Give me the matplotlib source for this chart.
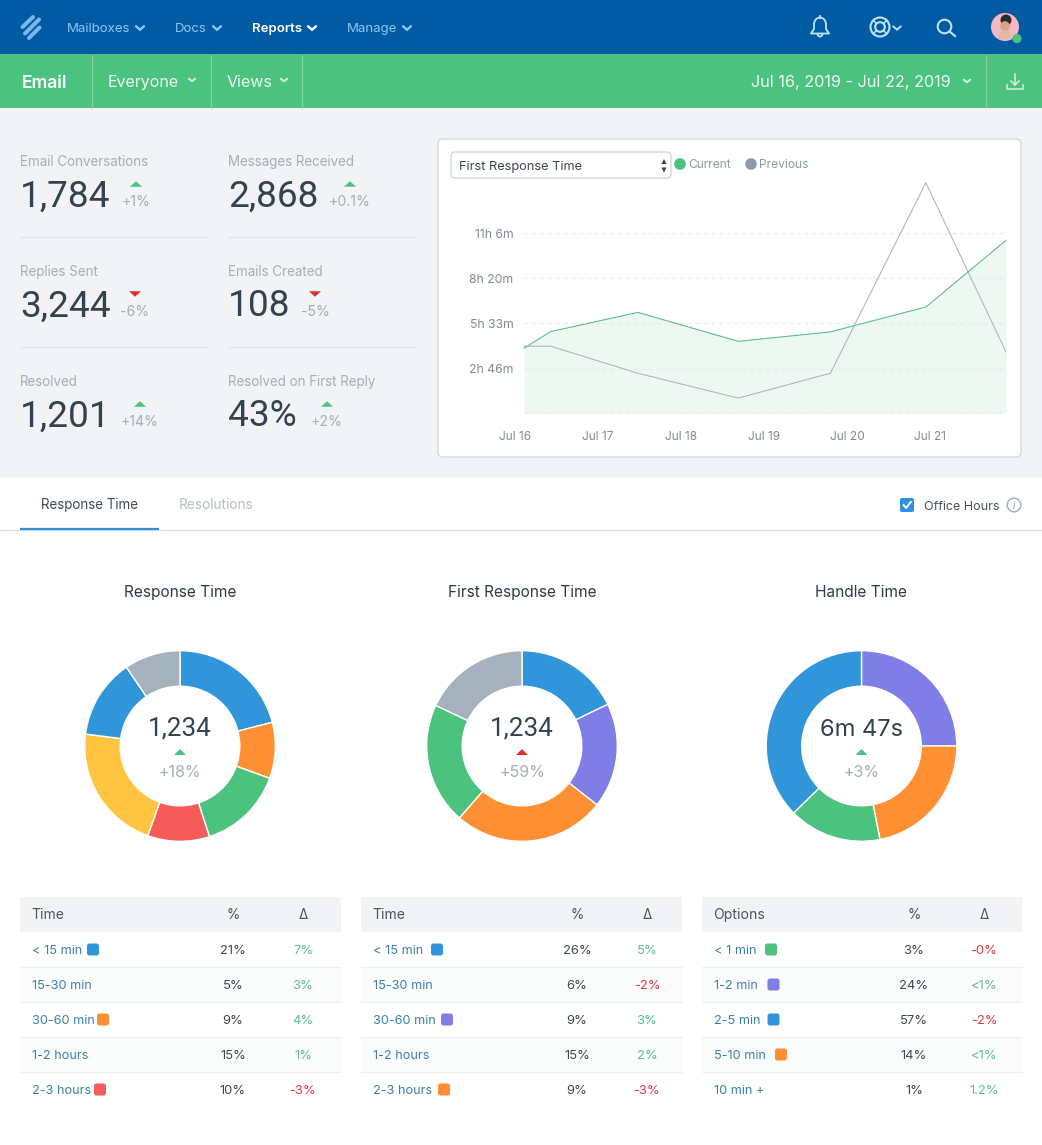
import matplotlib
matplotlib.use("Agg")
import matplotlib.pyplot as plt
from matplotlib.patches import Rectangle, FancyBboxPatch, Circle, Polygon, Arc

plt.rcParams['font.family'] = ['Inter', 'DejaVu Sans']

W, H = 1042, 1145

# ---------- data ----------
line_days_current = [16.11, 16.43, 17.48, 18.69, 19.80, 20.95, 21.92]
line_current = [242, 303, 374, 267, 302, 394, 642]
line_days_previous = [16.11, 16.43, 17.48, 18.69, 19.80, 20.95, 21.92]
line_previous = [249, 249, 149, 57, 149, 854, 225]
y_ticks = [166.5, 333, 499.5, 666]
y_labels = ['2h 46m', '5h 33m', '8h 20m', '11h 6m']
x_ticks = [16, 17, 18, 19, 20, 21]
x_labels = ['Jul 16', 'Jul 17', 'Jul 18', 'Jul 19', 'Jul 20', 'Jul 21']

donut_titles = ['Response Time', 'First Response Time', 'Handle Time']
donut_centers = ['1,234', '1,234', '6m 47s']
donut_deltas = ['+18%', '+59%', '+3%']
donut_up_good = [True, False, True]
donut1_values = [21, 9.5, 14.5, 10.5, 21.5, 13.5, 9.5]
donut2_values = [17.8, 17.8, 25.8, 20.6, 18]
donut3_values = [25, 21.9, 15.7, 37.4]

BLUE, ORANGE, GREEN, RED = '#3196D9', '#FF8F33', '#4CC27F', '#F55B58'
YELLOW, GRAY, PURPLE = '#FFC540', '#A5B1BD', '#7F7DE6'
donut1_colors = [BLUE, ORANGE, GREEN, RED, YELLOW, BLUE, GRAY]
donut2_colors = [BLUE, PURPLE, ORANGE, GREEN, GRAY]
donut3_colors = [PURPLE, ORANGE, GREEN, BLUE]

stat_labels = ['Email Conversations', 'Messages Received', 'Replies Sent',
               'Emails Created', 'Resolved', 'Resolved on First Reply']
stat_values = ['1,784', '2,868', '3,244', '108', '1,201', '43%']
stat_deltas = ['+1%', '+0.1%', '-6%', '-5%', '+14%', '+2%']
stat_good = [True, True, False, False, True, True]

table1_head = ['Time', '%', 'Δ']
table1_labels = ['< 15 min', '15-30 min', '30-60 min', '1-2 hours', '2-3 hours']
table1_pct = ['21%', '5%', '9%', '15%', '10%']
table1_delta = ['7%', '3%', '4%', '1%', '-3%']
table1_swatch = [BLUE, None, ORANGE, None, RED]

table2_head = ['Time', '%', 'Δ']
table2_labels = ['< 15 min', '15-30 min', '30-60 min', '1-2 hours', '2-3 hours']
table2_pct = ['26%', '6%', '9%', '15%', '9%']
table2_delta = ['5%', '-2%', '3%', '2%', '-3%']
table2_swatch = [BLUE, None, PURPLE, None, ORANGE]

table3_head = ['Options', '%', 'Δ']
table3_labels = ['< 1 min', '1-2 min', '2-5 min', '5-10 min', '10 min +']
table3_pct = ['3%', '24%', '57%', '14%', '1%']
table3_delta = ['-0%', '<1%', '-2%', '<1%', '1.2%']
table3_swatch = [GREEN, PURPLE, BLUE, ORANGE, None]

# ---------- canvas ----------
fig = plt.figure(figsize=(W / 100, H / 100), dpi=100, facecolor='white')
ui = fig.add_axes([0, 0, 1, 1], zorder=0)
ui.set_xlim(0, W)
ui.set_ylim(H, 0)
ui.axis('off')

NUMFONT = ['Roboto', 'DejaVu Sans']


def px(size):
    return size * 0.72


def rect(x0, y0, x1, y1, color, z=1):
    ui.add_patch(Rectangle((x0, y0), x1 - x0, y1 - y0, fc=color, ec='none', zorder=z))


def hline(x0, x1, y, color, lw=1.0, z=2):
    ui.plot([x0, x1], [y, y], color=color, lw=lw, zorder=z, solid_capstyle='butt')


def vline(x, y0, y1, color, lw=1.0, z=2):
    ui.plot([x, x], [y0, y1], color=color, lw=lw, zorder=z, solid_capstyle='butt')


def text(x, y, s, size, color, ha='left', weight='normal', **kw):
    ui.text(x, y + 0.36 * size, s, fontsize=px(size), color=color, ha=ha, va='baseline',
            fontweight=weight, zorder=5, **kw)


def chevron(x, y, color, w=4, h=3.5, lw=1.7):
    ui.plot([x - w, x, x + w], [y - h / 2, y + h / 2, y - h / 2], color=color, lw=lw,
            solid_capstyle='round', solid_joinstyle='miter', zorder=5)


def tri(x, y, color, w=12, h=5.5):
    ui.add_patch(Polygon([(x - w / 2, y + h / 2), (x + w / 2, y + h / 2), (x, y - h / 2)],
                         closed=True, fc=color, ec='none', zorder=5))


def tri_down(x, y, color, w=12, h=5.5):
    ui.add_patch(Polygon([(x - w / 2, y - h / 2), (x + w / 2, y - h / 2), (x, y + h / 2)],
                         closed=True, fc=color, ec='none', zorder=5))


def rounded(x0, y0, x1, y1, r, fc, ec='none', lw=1.0, z=2):
    ui.add_patch(FancyBboxPatch((x0 + r, y0 + r), x1 - x0 - 2 * r, y1 - y0 - 2 * r,
                                boxstyle=f'round,pad={r},rounding_size={r}',
                                fc=fc, ec=ec, lw=lw, zorder=z))


NAV, BAR, PAGE = '#005BA3', '#4CC27F', '#F1F3F5'
NAVTXT = '#8CC6F7'
INK, MUTED = '#2C3A48', '#A3AFBA'
rect(0, 0, W, 54, NAV)
rect(0, 54, W, 108, BAR)
rect(0, 108, W, 478, PAGE)

# ---------- top nav ----------
for (xa, ya, xb, yb) in ((22.5, 27, 33, 17), (25, 33.5, 39, 19.5), (29, 38, 39.5, 27.5)):
    ui.plot([xa, xb], [ya, yb], color='#78B8F0', lw=2.9, solid_capstyle='round', zorder=5)
nav_items = [('Mailboxes', 67, 140), ('Docs', 175, 217), ('Reports', 252, 312), ('Manage', 347, 407)]
for name, x, cx in nav_items:
    active = name == 'Reports'
    c = 'white' if active else NAVTXT
    text(x, 27, name, 13.2, c, weight='semibold' if active else 'normal')
    chevron(cx, 28, c)

ICON = '#BFE1FC'
# bell
ui.add_patch(Arc((820, 24.5), 12, 14, theta1=180, theta2=360, ec=ICON, lw=1.3, zorder=5))
ui.plot([814, 814, 811, 829, 826, 826], [24.5, 29, 33.5, 33.5, 29, 24.5], color=ICON, lw=1.3, zorder=5)
ui.plot([820, 820], [15.5, 17.5], color=ICON, lw=1.3, zorder=5)
ui.add_patch(Arc((820, 34), 5, 5, theta1=0, theta2=180, ec=ICON, lw=1.3, zorder=5))
# life ring
ui.add_patch(Circle((880, 27), 9.5, fc='none', ec=ICON, lw=1.5, zorder=5))
ui.add_patch(Circle((880, 27), 4.8, fc='none', ec=ICON, lw=1.5, zorder=5))
for a, b in ((1, 1), (1, -1), (-1, 1), (-1, -1)):
    ui.plot([880 + a * 3.4, 880 + a * 6.8], [27 + b * 3.4, 27 + b * 6.8], color=ICON, lw=1.2, zorder=5)
chevron(897, 28, ICON, w=3.8, h=3.2, lw=1.4)
# search
ui.add_patch(Circle((944.5, 26.5), 6.8, fc='none', ec=ICON, lw=1.5, zorder=5))
ui.plot([949.5, 955], [31.5, 36], color=ICON, lw=1.5, zorder=5)
# avatar
ui.add_patch(Circle((1005, 27), 14, fc='#F4B8C4', ec='none', zorder=5))
ui.add_patch(Circle((1006, 20), 5.5, fc='#2B2A2E', ec='none', zorder=6))
ui.add_patch(Circle((1005, 26), 4.8, fc='#D9A283', ec='none', zorder=6))
ui.add_patch(Polygon([(998, 39), (1002, 30), (1008, 30), (1012, 38)], fc='#E0B89F', ec='none', zorder=6))
ui.add_patch(Circle((1017, 38.5), 4.6, fc=BAR, ec='none', zorder=7))

# ---------- green bar ----------
for x in (92, 211, 302, 986):
    vline(x, 55, 108, '#7BD3A1', lw=0.9)
text(22, 82, 'Email', 17.5, 'white', weight='semibold')
text(108, 81, 'Everyone', 16, '#EAF8F0')
chevron(192, 80, '#D5F1E1', w=3.2, h=2.6, lw=1.4)
text(227, 81, 'Views', 16, '#EAF8F0')
chevron(284, 80, '#D5F1E1', w=3.2, h=2.6, lw=1.4)
text(951, 81, 'Jul 16, 2019 - Jul 22, 2019', 16.25, '#EAF8F0', ha='right')
chevron(967, 81, '#D5F1E1', w=3.2, h=2.6, lw=1.4)
ui.plot([1015, 1015], [74, 85], color='#CDEEDB', lw=1.2, zorder=5)
ui.plot([1011, 1015, 1019], [81, 85, 81], color='#CDEEDB', lw=1.2, zorder=5)
ui.plot([1007, 1007, 1023, 1023], [85, 89, 89, 85], color='#CDEEDB', lw=1.2, zorder=5)

# ---------- stat blocks ----------
stat_x = [20, 228, 20, 228, 20, 228]
stat_y = [161, 161, 271, 271, 381, 381]
stat_tri_x = [136, 350, 135, 315, 140, 327]
for i, lab in enumerate(stat_labels):
    x, y = stat_x[i], stat_y[i]
    text(x, y, lab, 13.4, MUTED)
    text(x, y + 32, stat_values[i], 37, '#34424F', family=NUMFONT)
    if stat_good[i]:
        tri(stat_tri_x[i], y + 23, GREEN)
    else:
        tri_down(stat_tri_x[i], y + 23, '#DE2E2E')
    text(stat_tri_x[i], y + 40, stat_deltas[i], 14, MUTED, ha='center')
for y in (237, 347):
    hline(20, 208, y, '#E1E5E8')
    hline(228, 416, y, '#E1E5E8')

# ---------- line chart card ----------
rounded(438, 139, 1021, 457, 5, 'white', ec='#CFD5DA', lw=0.8)
rounded(451, 152, 671, 178, 4, 'white', ec='#C9CFD5', lw=0.8, z=3)
text(459, 165.5, 'First Response Time', 12.8, '#3A4652')
tri(664, 161.5, '#333D47', w=5, h=5)
tri_down(664, 170, '#333D47', w=5, h=5)
ui.add_patch(Circle((680, 164), 5.8, fc=GREEN, ec='none', zorder=5))
text(688, 164, 'Current', 12, '#8D99A4')
ui.add_patch(Circle((751, 164), 5.8, fc='#8E9AA8', ec='none', zorder=5))
text(759, 164, 'Previous', 12, '#8D99A4')

# axes: y=0 at 413.5 px, 45 px per 166.5 minutes; x: 83 px per day, Jul 16 at 515 px
ax_left, ax_right, ax_top, ax_bottom = 515, 1006, 173.5, 413.5
ax = fig.add_axes([ax_left / W, 1 - ax_bottom / H, (ax_right - ax_left) / W, (ax_bottom - ax_top) / H],
                  zorder=1)
ax.patch.set_alpha(0)
ax.set_xlim(16, 16 + (ax_right - ax_left) / 83)
ax.set_ylim(0, (ax_bottom - ax_top) * 3.7)
for s in ax.spines.values():
    s.set_visible(False)
ax.fill_between(line_days_current, line_current, 0, color='#EEF8F3', lw=0, zorder=1)
ax.hlines(y_ticks + [1], line_days_current[0], line_days_current[-1], colors='#E7EAED', lw=0.8,
          linestyles=(0, (4, 3)), zorder=2)
ax.plot(line_days_previous, line_previous, color='#B2B6B9', lw=0.8, zorder=3)
ax.plot(line_days_current, line_current, color='#5ABF88', lw=0.8, zorder=4)
ax.set_yticks(y_ticks)
ax.set_yticklabels(y_labels, fontsize=px(12.2), color='#7E8A96')
ax.set_xticks(x_ticks)
ax.set_xticklabels(x_labels, fontsize=px(11.8), color='#7E8A96')
ax.tick_params(axis='both', length=0)
ax.tick_params(axis='y', pad=1)
ax.tick_params(axis='x', pad=12.5)

# ---------- tabs ----------
text(89.5, 504, 'Response Time', 13.4, '#3F4B57', ha='center')
text(216.5, 504, 'Resolutions', 13.7, '#B5BEC6', ha='center')
hline(0, W, 530, '#DCE1E5')
hline(20, 159, 529, '#2F8FDA', lw=1.6, z=3)
rounded(900, 498, 914, 512, 2, '#2E8FE3', z=4)
ui.plot([903.5, 906, 910.8], [505, 508, 502], color='white', lw=1.4, zorder=5)
text(924, 505.5, 'Office Hours', 12.5, '#47535F')
ui.add_patch(Circle((1014, 505), 6.8, fc='none', ec='#A7B1BA', lw=1.1, zorder=5))
text(1014, 505, 'i', 10, '#8F9BA6', ha='center', style='italic')

# ---------- donuts ----------
donut_cx = [180, 522, 861.5]
donut_vals = [donut1_values, donut2_values, donut3_values]
donut_cols = [donut1_colors, donut2_colors, donut3_colors]
title_x = [180, 522, 861]
for i in range(3):
    cx, cy, r = donut_cx[i], 746, 95.3
    dax = fig.add_axes([(cx - r) / W, 1 - (cy + r) / H, 2 * r / W, 2 * r / H], zorder=1)
    dax.patch.set_alpha(0)
    dax.pie(donut_vals[i], colors=donut_cols[i], startangle=90, counterclock=False, radius=1,
            wedgeprops=dict(width=35.5 / 95.3, edgecolor='white', linewidth=1.0))
    dax.set_xlim(-1, 1)
    dax.set_ylim(-1, 1)
    text(title_x[i], 591, donut_titles[i], 15.45, '#2F3B47', ha='center')
    if donut_centers[i].startswith('1'):
        text(cx, 726, donut_centers[i], 26, '#34424F', ha='center', family=NUMFONT)
    else:
        text(cx, 727, donut_centers[i], 23.7, '#34424F', ha='center')
    tri(cx, 752, GREEN if donut_up_good[i] else '#DE2E2E', w=12, h=6)
    text(cx, 771, donut_deltas[i], 16, MUTED, ha='center')

# ---------- tables ----------
tables = [
    (20, 341, 213, 283, table1_head, table1_labels, table1_pct, table1_delta, table1_swatch,
     [93, None, 103, None, 100]),
    (361, 682, 216, 286, table2_head, table2_labels, table2_pct, table2_delta, table2_swatch,
     [437, None, 447, None, 444]),
    (702, 1022, 212, 282, table3_head, table3_labels, table3_pct, table3_delta, table3_swatch,
     [771, 773.5, 773.5, 781, None]),
]
LINK, DARK, GOODT, BADT = '#3C80A8', '#3E4954', '#5CC08A', '#DC3B45'
for x0, x1, pc, dc, head, labs, pcts, dels, sw, swx in tables:
    rect(x0, 897, x1, 932, PAGE)
    text(x0 + 11.5, 914, head[0], 14, '#4A5561')
    text(x0 + pc, 914, head[1], 13.5, '#4A5561', ha='center')
    text(x0 + dc, 914, head[2], 13.5, '#4A5561', ha='center')
    for j in range(5):
        y0 = 932 + 35 * j
        if j % 2 == 1:
            rect(x0, y0, x1, y0 + 35, '#FAFBFB')
        if j < 4:
            hline(x0, x1, y0 + 35, '#EDF0F2')
        yc = y0 + 17.5
        text(x0 + 12, yc, labs[j], 12.7, LINK)
        text(x0 + pc, yc, pcts[j], 13, DARK, ha='center')
        text(x0 + dc, yc, dels[j], 13, BADT if dels[j].startswith('-') else GOODT, ha='center')
        if sw[j]:
            rounded(swx[j] - 6, yc - 6, swx[j] + 6, yc + 6, 2.5, sw[j], z=4)

fig.savefig('out.png', dpi=100)
